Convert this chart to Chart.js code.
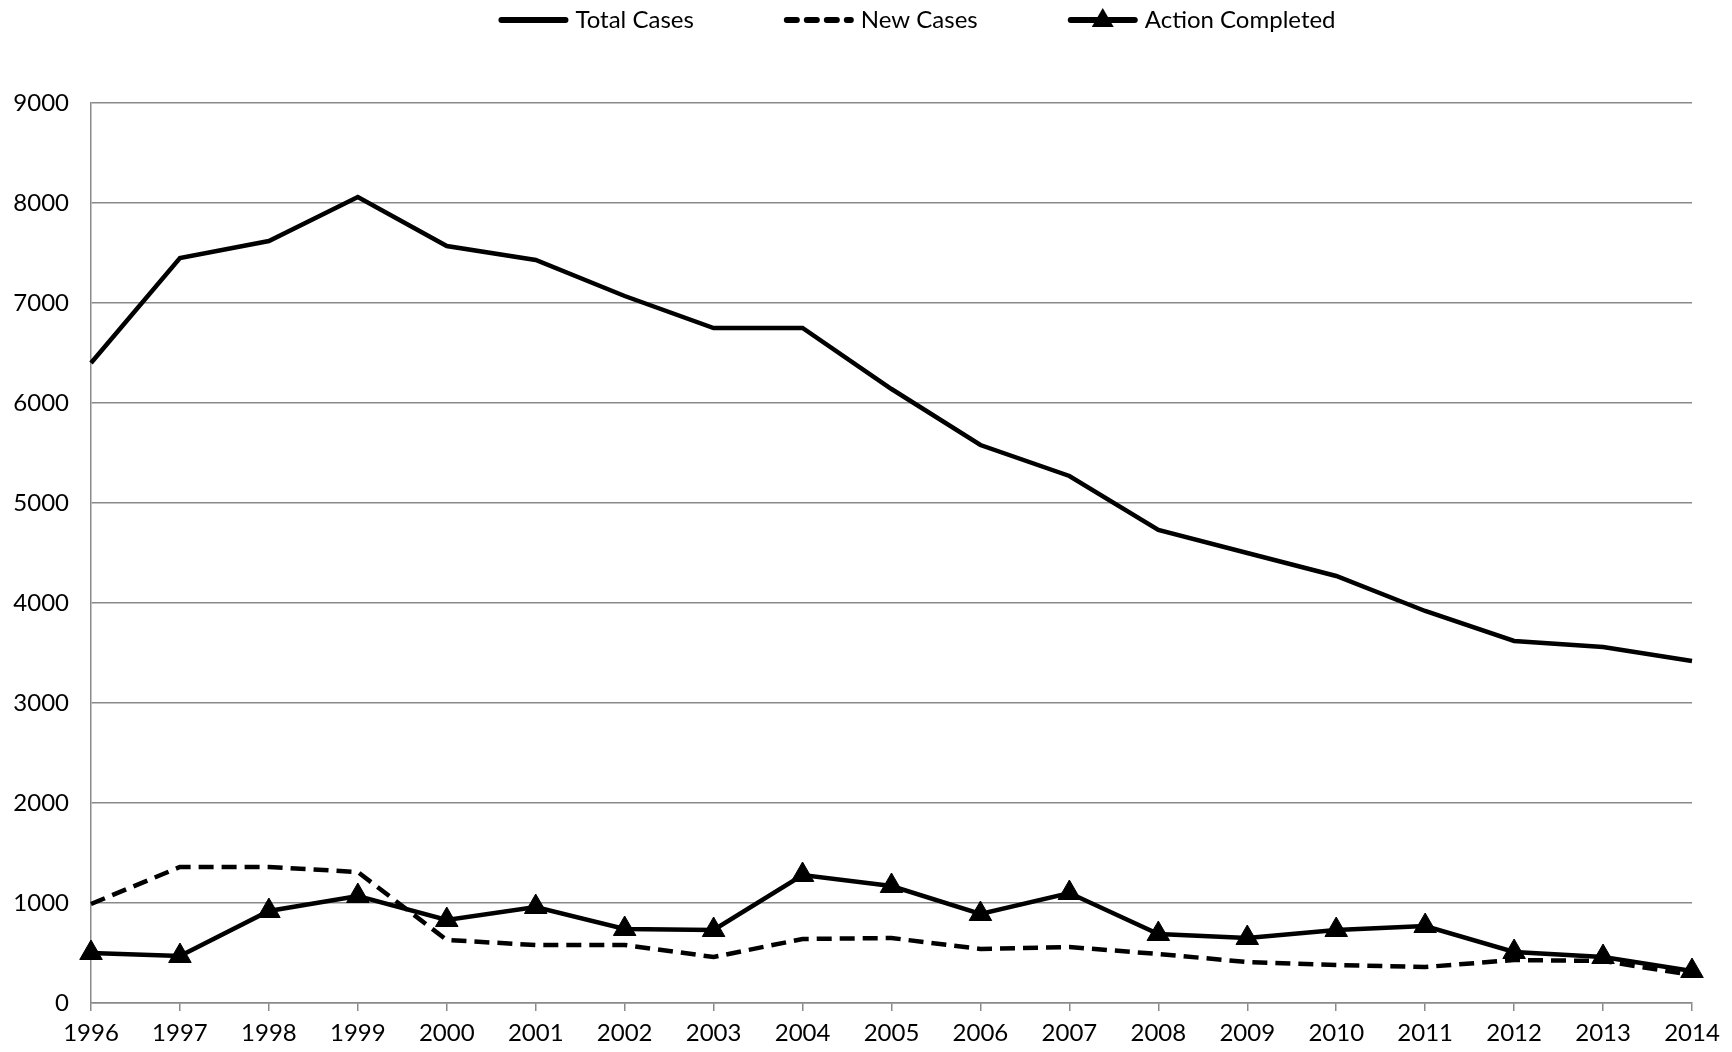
<!DOCTYPE html>
<html>
<head>
    <title>Cases 1996-2014</title>
    <script src="https://cdn.jsdelivr.net/npm/chart.js"></script>
    <style>
        html, body { margin: 0; padding: 0; background: #fff; }
        #wrap { width: 1732px; height: 1052px; position: relative; }
    </style>
</head>
<body>
    <div id="wrap"><canvas id="lineChart"></canvas></div>

    <script>
        const years = ["1996", "1997", "1998", "1999", "2000", "2001", "2002", "2003", "2004", "2005",
                       "2006", "2007", "2008", "2009", "2010", "2011", "2012", "2013", "2014"];
        const totalCases = [6400, 7450, 7620, 8060, 7570, 7430, 7070, 6750, 6750, 6140,
                            5580, 5270, 4730, 4500, 4270, 3920, 3620, 3560, 3420];
        const newCases = [990, 1360, 1360, 1310, 630, 580, 580, 460, 640, 650,
                          540, 560, 490, 410, 380, 360, 430, 420, 280];
        const actionCompleted = [500, 470, 920, 1070, 830, 960, 740, 730, 1280, 1170,
                                 890, 1100, 690, 650, 730, 770, 510, 460, 320];
        const yTicks = [0, 1000, 2000, 3000, 4000, 5000, 6000, 7000, 8000, 9000];

        const FONT = "Lato, 'Open Sans', sans-serif";

        // legend drawn by hand so the line samples look like the original
        const legendPlugin = {
            id: "topLegend",
            afterDraw(chart) {
                const ctx = chart.ctx;
                const items = chart.data.datasets.map(ds => ({
                    text: ds.label, dash: ds.borderDash || [], tri: ds.pointStyle === "triangle"
                }));
                const sample = 70, gap = 7, spacing = 90, y = 20;
                ctx.save();
                ctx.font = "24px " + FONT;
                let total = 0;
                items.forEach((it, i) => {
                    it.w = ctx.measureText(it.text).width;
                    total += sample + gap + it.w + (i ? spacing : 0);
                });
                let x = 917 - total / 2;
                items.forEach(it => {
                    ctx.strokeStyle = "#000";
                    ctx.lineWidth = 6;
                    ctx.lineCap = "round";
                    ctx.setLineDash(it.dash.length ? [10, 10] : []);
                    ctx.beginPath();
                    ctx.moveTo(x + 3, y);
                    ctx.lineTo(x + sample - 3, y);
                    ctx.stroke();
                    ctx.setLineDash([]);
                    if (it.tri) {
                        const cx = x + sample / 2;
                        ctx.fillStyle = "#000";
                        ctx.beginPath();
                        ctx.moveTo(cx, y - 12);
                        ctx.lineTo(cx + 11, y + 7);
                        ctx.lineTo(cx - 11, y + 7);
                        ctx.closePath();
                        ctx.fill();
                    }
                    ctx.fillStyle = "#000";
                    ctx.textBaseline = "middle";
                    ctx.fillText(it.text, x + sample + gap, y);
                    x += sample + gap + it.w + spacing;
                });
                ctx.restore();
            }
        };

        const ctx = document.getElementById("lineChart").getContext("2d");
        new Chart(ctx, {
            type: "line",
            data: {
                labels: years,
                datasets: [
                    {
                        label: "Total Cases",
                        data: totalCases,
                        borderColor: "#000",
                        borderWidth: 4.5,
                        pointRadius: 0,
                        tension: 0,
                        order: 2
                    },
                    {
                        label: "New Cases",
                        data: newCases,
                        borderColor: "#000",
                        borderWidth: 4.5,
                        borderDash: [15, 8],
                        pointRadius: 0,
                        tension: 0,
                        order: 1
                    },
                    {
                        label: "Action Completed",
                        data: actionCompleted,
                        borderColor: "#000",
                        borderWidth: 4.5,
                        pointStyle: "triangle",
                        pointRadius: 13,
                        pointBackgroundColor: "#000",
                        pointBorderColor: "#000",
                        pointBorderWidth: 1,
                        tension: 0,
                        order: 0
                    }
                ]
            },
            options: {
                responsive: true,
                maintainAspectRatio: false,
                animation: false,
                layout: { padding: { top: 103, right: 40, left: 0, bottom: 0 } },
                plugins: {
                    legend: { display: false },
                    tooltip: { enabled: false }
                },
                scales: {
                    x: {
                        offset: false,
                        grid: { drawOnChartArea: false, drawTicks: true, tickLength: 8, color: "#8a8a8a", lineWidth: 1.5 },
                        border: { color: "#8a8a8a", width: 1.5 },
                        ticks: { color: "#000", font: { family: FONT, size: 24 }, padding: 8, maxRotation: 0, autoSkip: false },
                        afterFit(scale) { scale.height = 49; }
                    },
                    y: {
                        min: 0,
                        max: 9000,
                        afterBuildTicks(scale) { scale.ticks = yTicks.map(v => ({ value: v })); },
                        grid: { drawTicks: false, color: "#8a8a8a", lineWidth: 1.5 },
                        border: { color: "#8a8a8a", width: 1.5 },
                        ticks: {
                            color: "#000",
                            font: { family: FONT, size: 24 },
                            padding: 22,
                            callback: v => String(v)
                        },
                        afterFit(scale) { scale.width = 91; }
                    }
                }
            },
            plugins: [legendPlugin]
        });
    </script>
</body>
</html>
